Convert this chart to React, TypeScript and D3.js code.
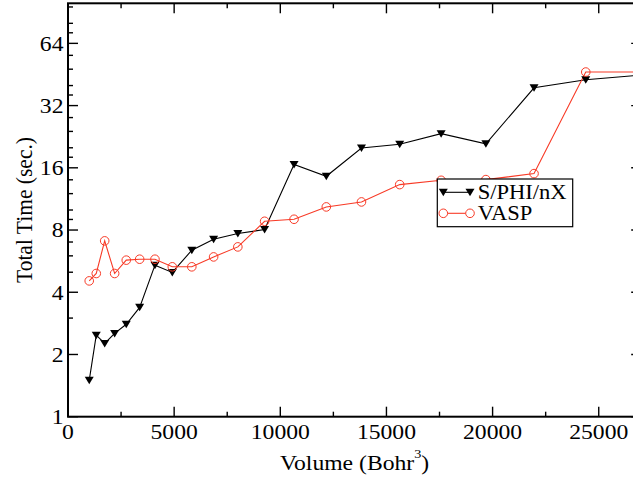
import React from "react";
import * as d3 from "d3";

const volumes = [1000, 1331, 1728, 2197, 2744, 3375, 4096, 4913, 5832, 6859, 8000, 9261, 10648, 12167, 13824, 15625, 17576, 19683, 21952, 24389, 27000];
const sphinxTimes = [1.5, 2.48, 2.26, 2.53, 2.8, 3.38, 5.41, 4.99, 6.39, 7.22, 7.69, 8.04, 16.6, 14.56, 19.95, 20.8, 23.4, 20.9, 39.0, 42.7, 45.0];
const vaspTimes = [4.54, 4.93, 7.09, 4.93, 5.72, 5.78, 5.78, 5.31, 5.31, 5.93, 6.63, 8.82, 9.02, 10.35, 10.94, 13.27, 13.92, 14.03, 15.0, 46.5, 46.5];
const xMajorTicks = [0, 5000, 10000, 15000, 20000, 25000];
const xMinorTicks = [2500, 7500, 12500, 17500, 22500];
const yMajorTicks = [1, 2, 4, 8, 16, 32, 64];
const yMinorTicks = [3, 5, 6, 7, 9, 10, 12, 14, 18, 20, 24, 28, 36, 40, 48, 56, 72, 80, 96];
const seriesNames = ["S/PHI/nX", "VASP"];

const L = 68, R = 641.2, T = 3.3, B = 416.7;
const FONT = "Liberation Serif";
const FS = 21.5;
const SX = 1.1;
const RED = "#f83a26";

export default function App() {
  const x = d3.scaleLinear().domain([0, 27000]).range([L, R]);
  const y = d3.scaleLog().base(2).domain([1, 100]).range([B, T]);
  const line = d3.line<number>().x((_, i) => x(volumes[i])).y((d) => y(d));
  const tri = (cx: number, cy: number) => `M${cx - 4.5},${cy - 3.5}L${cx + 4.5},${cy - 3.5}L${cx},${cy + 4}Z`;

  const sphinxPts = sphinxTimes.map((v, i) => [x(volumes[i]), y(v)]);
  const vaspPts = vaspTimes.map((v, i) => [x(volumes[i]), y(v)]);

  const txt = (tx: number, ty: number, s: React.ReactNode, anchor: string, key?: any, rot = false, size = FS, sx = SX) => (
    <g key={key} transform={`translate(${tx},${ty}) scale(${sx},1)${rot ? " rotate(-90)" : ""}`}>
      <text textAnchor={anchor} fontFamily={FONT} fontSize={size} fill="#000">{s}</text>
    </g>
  );

  return (
    <svg width={633} height={479} style={{ position: "absolute", left: 0, top: 0, background: "#fff" }}>
      <defs>
        <clipPath id="plot"><rect x={L} y={T} width={R - L} height={B - T} /></clipPath>
      </defs>
      <rect x={0} y={0} width={633} height={479} fill="#fff" />
      <g clipPath="url(#plot)">
        <path d={line(sphinxTimes) || ""} fill="none" stroke="#000" strokeWidth={1.1} />
        <path d={line(vaspTimes) || ""} fill="none" stroke={RED} strokeWidth={1.1} />
        {sphinxPts.map(([cx, cy], i) => <path key={"s" + i} d={tri(cx, cy)} fill="#000" />)}
        {vaspPts.map(([cx, cy], i) => <circle key={"v" + i} cx={cx} cy={cy} r={4.3} fill="none" stroke={RED} strokeWidth={1} />)}
      </g>
      <g stroke="#000" strokeWidth={1.4}>
        {xMajorTicks.map((t) => (
          <g key={"xM" + t}>
            <line x1={x(t)} x2={x(t)} y1={B} y2={B - 10} />
            <line x1={x(t)} x2={x(t)} y1={T} y2={T + 10} />
          </g>
        ))}
        {xMinorTicks.map((t) => (
          <g key={"xm" + t}>
            <line x1={x(t)} x2={x(t)} y1={B} y2={B - 5} />
            <line x1={x(t)} x2={x(t)} y1={T} y2={T + 5} />
          </g>
        ))}
        {yMajorTicks.map((t) => (
          <g key={"yM" + t}>
            <line x1={L} x2={L + 10} y1={y(t)} y2={y(t)} />
            <line x1={R} x2={R - 10} y1={y(t)} y2={y(t)} />
          </g>
        ))}
        {yMinorTicks.map((t) => (
          <g key={"ym" + t}>
            <line x1={L} x2={L + 5} y1={y(t)} y2={y(t)} />
            <line x1={R} x2={R - 5} y1={y(t)} y2={y(t)} />
          </g>
        ))}
      </g>
      <rect x={L} y={T} width={R - L} height={B - T} fill="none" stroke="#000" strokeWidth={2} />
      {xMajorTicks.map((t) => txt(x(t), 438.5, String(t), "middle", "xl" + t))}
      {yMajorTicks.map((t) => txt(63.5, y(t) + 7.3, String(t), "end", "yl" + t))}
      <g transform={`translate(${(L + R) / 2},470) scale(${SX},1)`}>
        <text textAnchor="middle" fontFamily={FONT} fontSize={FS} fill="#000">
          Volume (Bohr<tspan fontSize={13} dy={-12}>3</tspan><tspan dy={12}>)</tspan>
        </text>
      </g>
      {txt(31.5, (T + B) / 2, "Total Time (sec.)", "middle", "yt", true)}
      <rect x={437.3} y={179} width={135.4} height={47.7} fill="#fff" stroke="#000" strokeWidth={1.2} />
      <line x1={443.3} x2={470} y1={192.3} y2={192.3} stroke="#000" strokeWidth={1.1} />
      <path d={tri(443.3, 192.3)} fill="#000" />
      <path d={tri(470, 192.3)} fill="#000" />
      {txt(477.7, 199.3, seriesNames[0], "start", "lg0", false, 20.5, 1.1)}
      <line x1={443.3} x2={470} y1={213.3} y2={213.3} stroke={RED} strokeWidth={1.1} />
      <circle cx={443.3} cy={213.3} r={4.3} fill="#fff" stroke={RED} strokeWidth={1} />
      <circle cx={470} cy={213.3} r={4.3} fill="#fff" stroke={RED} strokeWidth={1} />
      {txt(477.7, 220.3, seriesNames[1], "start", "lg1", false, 20.5, 1.1)}
    </svg>
  );
}
